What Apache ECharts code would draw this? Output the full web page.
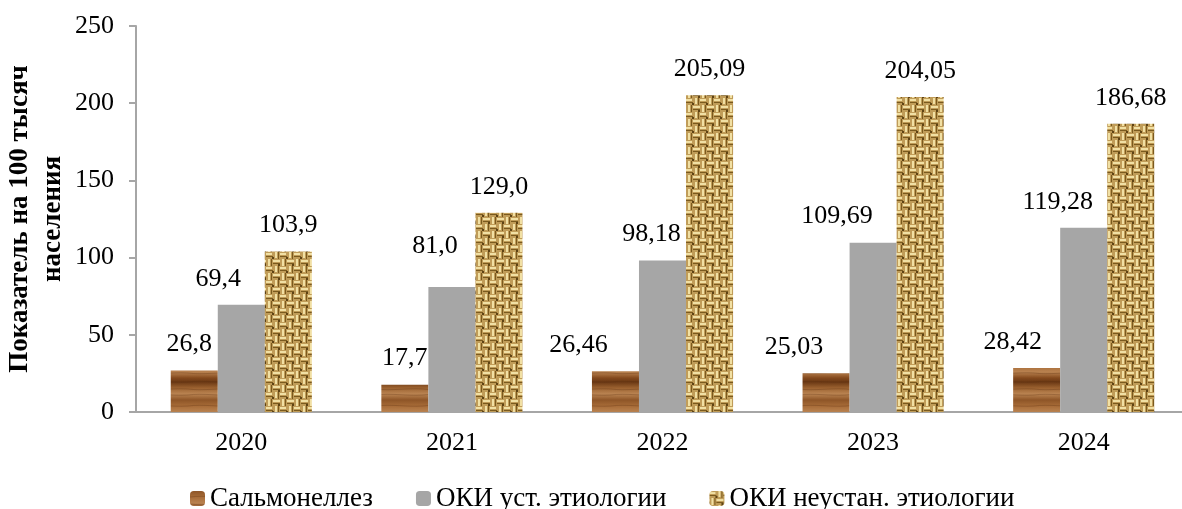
<!DOCTYPE html>
<html>
<head>
<meta charset="utf-8">
<script src="https://cdn.jsdelivr.net/npm/echarts@6/dist/echarts.min.js"></script>
<style>
html, body { margin: 0; padding: 0; background: #fff; }
#chart { width: 1182px; height: 509px; }
</style>
</head>
<body>
<div id="chart"></div>
<script>
// data
const years = ['2020', '2021', '2022', '2023', '2024'];
const salmonella = [26.8, 17.7, 26.46, 25.03, 28.42];
const salmonellaLabels = ['26,8', '17,7', '26,46', '25,03', '28,42'];
const okiKnown = [69.4, 81.0, 98.18, 109.69, 119.28];
const okiKnownLabels = ['69,4', '81,0', '98,18', '109,69', '119,28'];
const okiUnknown = [103.9, 129.0, 205.09, 204.05, 186.68];
const okiUnknownLabels = ['103,9', '129,0', '205,09', '204,05', '186,68'];
const seriesNames = ['Сальмонеллез', 'ОКИ уст. этиологии', 'ОКИ неустан. этиологии'];

// manual label shifts (as in the original chart), px
const salmonellaShift = [[-5, 0], [0, 0], [-37, 0], [-32, 0], [-24, 0]];
const okiKnownShift = [[-23, 0], [-17, -15], [-11, 0], [-36, 0], [-26, 0]];

// wood texture
function woodPattern() {
    const c = document.createElement('canvas');
    c.width = 47; c.height = 40;
    const ctx = c.getContext('2d');
    const g = ctx.createLinearGradient(0, 0, 0, 40);
    g.addColorStop(0, '#8e5527');
    g.addColorStop(0.15, '#a86c38');
    g.addColorStop(0.3, '#b98250');
    g.addColorStop(0.45, '#84491d');
    g.addColorStop(0.55, '#6a3814');
    g.addColorStop(0.7, '#9c6230');
    g.addColorStop(0.85, '#ba8452');
    g.addColorStop(1, '#8e5527');
    ctx.fillStyle = g;
    ctx.fillRect(0, 0, 47, 40);
    ctx.strokeStyle = 'rgba(90,45,15,0.3)';
    ctx.lineWidth = 1;
    [6, 13, 22, 29, 35].forEach(function (y, i) {
        ctx.beginPath();
        ctx.moveTo(0, y);
        ctx.bezierCurveTo(15, y + (i % 2 ? 2 : -2), 30, y + (i % 2 ? -1 : 1), 47, y);
        ctx.stroke();
    });
    return c;
}

// burlap texture
function burlapPattern() {
    const c = document.createElement('canvas');
    c.width = 14; c.height = 14;
    const ctx = c.getContext('2d');
    ctx.fillStyle = '#c09c58';
    ctx.fillRect(0, 0, 14, 14);
    ctx.fillStyle = '#f1e0a4';
    ctx.fillRect(0, 1, 6, 2);
    ctx.fillRect(7, 8, 7, 2);
    ctx.fillRect(9, 0, 2, 6);
    ctx.fillRect(2, 7, 2, 7);
    ctx.fillStyle = '#7a5a1e';
    ctx.fillRect(0, 4, 7, 1);
    ctx.fillRect(7, 11, 7, 1);
    ctx.fillRect(12, 0, 1, 7);
    ctx.fillRect(5, 7, 1, 7);
    ctx.fillStyle = '#5e4315';
    ctx.fillRect(6, 5, 2, 2);
    ctx.fillRect(12, 12, 2, 2);
    return c;
}

const font = 'Liberation Serif, Times New Roman, serif';

function labelOf(arr) {
    return {
        show: true,
        position: 'top',
        distance: 13,
        color: '#000',
        fontFamily: font,
        fontSize: 26,
        formatter: function (p) { return arr[p.dataIndex]; }
    };
}

function withShift(values, shifts) {
    return values.map(function (v, i) {
        return shifts ? { value: v, label: { offset: shifts[i] } } : v;
    });
}

const chart = echarts.init(document.getElementById('chart'));
chart.setOption({
    animation: false,
    textStyle: { fontFamily: font },
    grid: { left: 136, right: -7, top: 26, bottom: 97, outerBoundsMode: 'none', containLabel: false },
    legend: {
        bottom: -8,
        left: 185,
        itemWidth: 15,
        itemHeight: 15,
        itemGap: 43,
        textStyle: { fontFamily: font, fontSize: 27, color: '#000' },
        data: seriesNames
    },
    xAxis: {
        type: 'category',
        data: years,
        axisLine: { lineStyle: { color: '#a6a6a6', width: 2 } },
        axisTick: { show: false },
        axisLabel: { color: '#000', fontFamily: font, fontSize: 26, margin: 18 }
    },
    yAxis: {
        type: 'value',
        min: 0,
        max: 250,
        interval: 50,
        name: 'Показатель на 100 тысяч\nнаселения',
        nameLocation: 'middle',
        nameGap: 66,
        nameMoveOverlap: false,
        nameTextStyle: { fontFamily: font, fontSize: 27, fontWeight: 'bold', color: '#000', lineHeight: 33 },
        axisLine: { show: true, lineStyle: { color: '#a6a6a6', width: 2 } },
        axisTick: { show: true, length: 7, lineStyle: { color: '#a6a6a6', width: 2 } },
        splitLine: { show: false },
        axisLabel: { color: '#000', fontFamily: font, fontSize: 26, margin: 22 }
    },
    series: [
        {
            name: seriesNames[0], type: 'bar', data: withShift(salmonella, salmonellaShift),
            barGap: '0%', barCategoryGap: '33%',
            itemStyle: { color: { image: woodPattern(), repeat: 'repeat' } },
            label: labelOf(salmonellaLabels)
        },
        {
            name: seriesNames[1], type: 'bar', data: withShift(okiKnown, okiKnownShift),
            itemStyle: { color: '#a6a6a6' },
            label: labelOf(okiKnownLabels)
        },
        {
            name: seriesNames[2], type: 'bar', data: okiUnknown,
            itemStyle: { color: { image: burlapPattern(), repeat: 'repeat' } },
            label: labelOf(okiUnknownLabels)
        }
    ]
});
</script>
</body>
</html>
